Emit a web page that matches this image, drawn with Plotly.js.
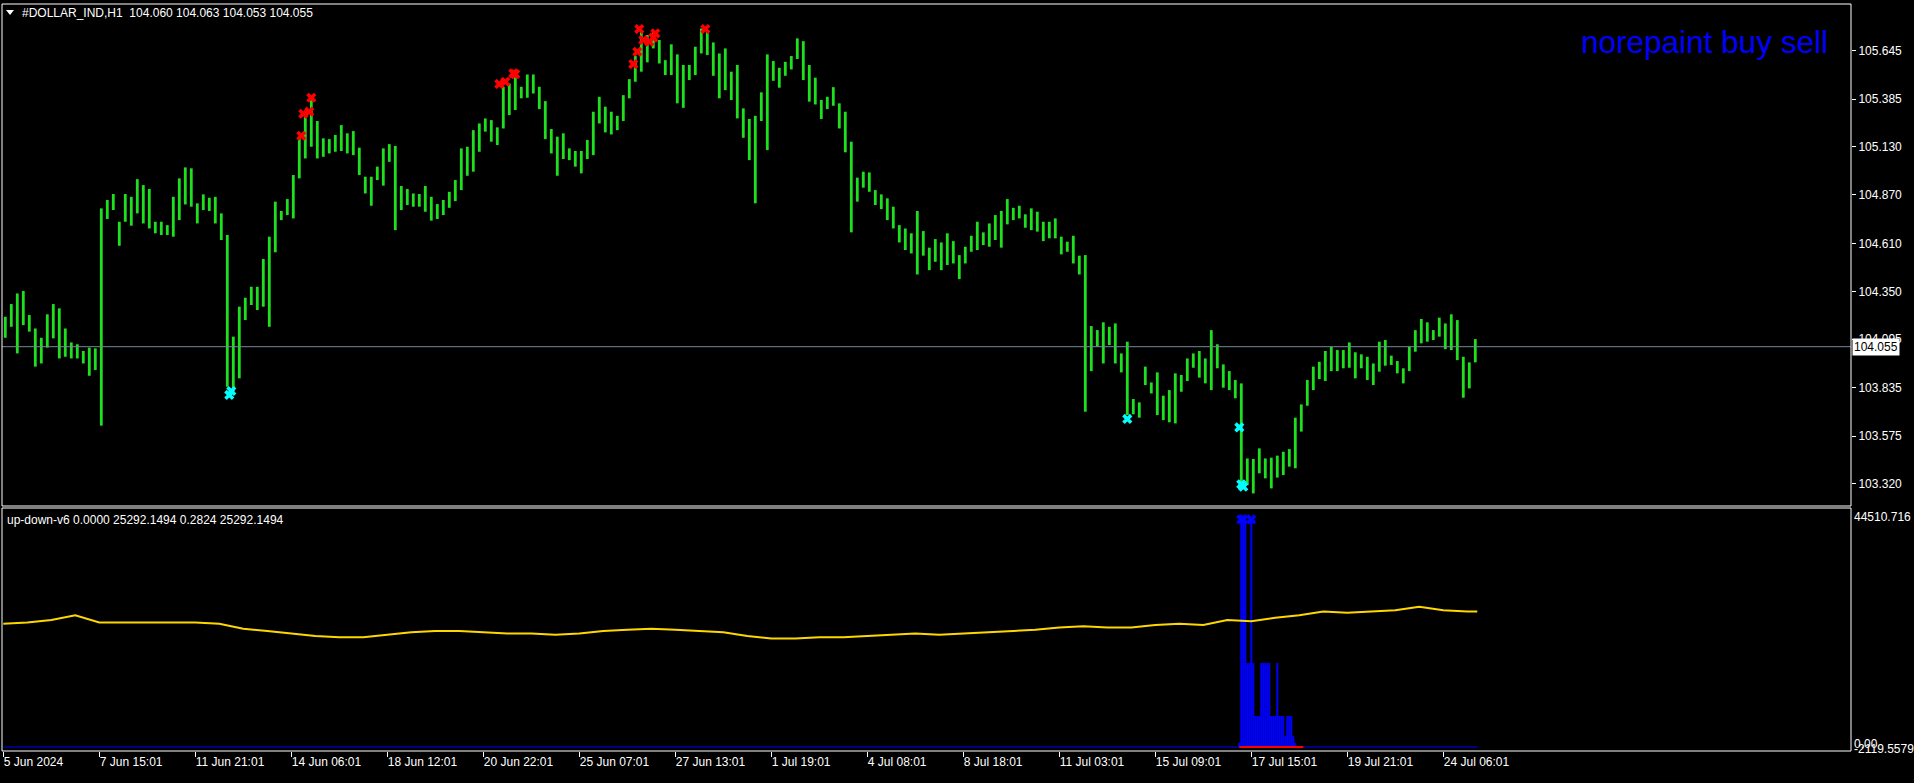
<!DOCTYPE html>
<html><head><meta charset="utf-8">
<script src="https://cdn.plot.ly/plotly-3.0.1.min.js"></script>
<style>html,body{margin:0;padding:0;background:#000;overflow:hidden}#chart{width:1914px;height:783px}</style>
</head><body><div id="chart"></div>
<script>
// ---------------- data ----------------
const symbolTitle = "#DOLLAR_IND,H1  104.060 104.063 104.053 104.055";
const indicatorTitle = "up-down-v6 0.0000 25292.1494 0.2824 25292.1494";
const brandText = "norepaint buy sell";
const lastPrice = 104.055;

// price bars, each sample = 3 hourly bars (high / low)
const barsPerSample = 3;
const sampleHigh = [
104.216,104.284,104.341,104.354,104.225,104.153,104.103,104.229,104.284,104.261,
104.153,104.078,104.068,104.032,104.050,104.046,104.798,104.843,104.875,104.726,
104.875,104.860,104.955,104.923,104.902,104.726,104.726,104.708,104.860,104.959,
105.018,105.013,104.825,104.873,104.855,104.860,104.771,104.655,104.109,104.270,
104.318,104.377,104.377,104.526,104.646,104.834,104.784,104.848,104.977,105.183,
105.299,105.380,105.267,105.174,105.170,105.192,105.245,105.201,105.213,105.124,
104.968,104.968,105.022,
105.120,105.143,105.133,104.918,104.902,104.878,104.875,104.918,104.860,104.821,
104.843,104.887,104.950,105.120,105.129,105.218,105.254,105.281,105.272,105.233,
105.451,105.469,105.523,105.451,105.517,105.517,105.451,105.374,105.224,105.183,
105.201,105.120,105.106,105.106,105.165,105.317,105.397,105.344,105.317,105.295,
105.406,105.492,105.618,105.755,105.729,105.747,105.702,105.594,105.679,105.625,
105.568,105.568,105.666,105.764,105.747,105.689,105.630,105.657,105.532,105.568,
105.335,
105.278,105.295,105.421,105.625,105.589,105.553,105.585,105.616,105.711,105.696,
105.568,105.500,105.380,105.397,105.449,105.362,105.317,105.156,104.963,104.995,
104.991,104.896,104.873,104.852,104.807,104.708,104.690,104.664,104.784,104.676,
104.587,104.633,104.615,104.664,104.622,104.547,104.592,104.651,104.726,104.669,
104.717,104.762,104.784,104.848,104.801,104.812,104.766,104.798,104.780,104.726,
104.726,104.744,104.646,104.619,104.651,104.544,104.547,104.166,104.144,104.186,
104.162,104.180,
104.019,104.082,103.774,103.756,103.948,103.863,103.917,103.792,103.822,103.912,
103.903,103.992,104.019,104.032,103.992,104.144,104.068,103.960,103.924,103.876,
103.858,103.455,103.452,103.509,103.455,103.459,103.470,103.491,103.505,103.674,
103.745,103.876,103.948,103.974,104.032,104.055,104.037,104.037,104.078,104.025,
104.014,104.001,103.965,104.082,104.091,104.007,103.978,103.939,104.055,104.144,
104.204,104.186,104.144,104.211,104.180,104.229,104.198,104.001,103.971,104.096
];
const sampleLow = [
104.103,104.162,104.019,104.171,104.136,103.948,103.965,104.050,104.100,103.992,
104.001,103.992,103.992,103.965,103.899,103.930,103.631,104.741,104.789,104.597,
104.726,104.705,104.771,104.717,104.690,104.664,104.655,104.655,104.646,104.735,
104.819,104.807,104.717,104.789,104.784,104.717,104.628,103.840,103.813,103.885,
104.198,104.279,104.252,104.270,104.162,104.562,104.735,104.762,104.744,104.959,
105.066,105.129,105.066,105.075,105.093,105.102,105.106,105.093,105.084,104.977,
104.878,104.812,104.950,
104.920,105.048,104.681,104.789,104.816,104.807,104.807,104.780,104.732,104.741,
104.762,104.801,104.837,104.896,104.973,104.995,105.102,105.210,105.156,105.138,
105.227,105.299,105.326,105.389,105.392,105.415,105.331,105.170,105.093,104.973,
105.063,105.057,105.022,104.986,105.063,105.084,105.254,105.206,105.195,105.218,
105.267,105.389,105.478,105.532,105.582,105.657,105.576,105.514,105.514,105.362,
105.338,105.487,105.514,105.630,105.621,105.510,105.389,105.433,105.380,105.281,
105.177,
105.057,104.825,105.267,105.111,105.483,105.446,105.510,105.544,105.600,105.487,
105.371,105.356,105.278,105.331,105.349,105.227,105.099,104.669,104.834,104.909,
104.887,104.816,104.794,104.735,104.690,104.615,104.574,104.556,104.443,104.544,
104.466,104.511,104.466,104.494,104.502,104.418,104.502,104.565,104.574,104.601,
104.592,104.628,104.587,104.712,104.735,104.744,104.694,104.681,104.673,104.622,
104.637,104.637,104.551,104.565,104.502,104.443,103.706,103.924,104.055,103.965,
104.064,103.965,
103.917,103.688,103.692,103.674,103.849,103.804,103.688,103.661,103.649,103.643,
103.813,103.871,103.942,103.889,103.858,103.822,103.939,103.835,103.822,103.778,
103.294,103.312,103.267,103.375,103.348,103.294,103.352,103.366,103.411,103.402,
103.599,103.738,103.822,103.881,103.871,103.924,103.924,103.939,103.942,103.885,
103.939,103.876,103.849,103.921,103.953,103.957,103.912,103.858,103.924,104.028,
104.073,104.082,104.091,104.109,104.042,104.037,103.983,103.781,103.831,103.971
];

// sell (red) and buy (cyan) signal crosses: hourly bar number and price
const sellBars   = [149,150,153,154,248,251,255,256,315,317,318,320,323,325,326,351];
const sellPrices = [105.188,105.306,105.317,105.392,105.466,105.478,105.523,105.519,105.573,105.639,105.761,105.702,105.693,105.715,105.738,105.761];
const buyBars    = [113,114,562,618,619,620];
const buyPrices  = [103.796,103.817,103.667,103.622,103.316,103.303];

// indicator window (yellow line read every 12 hourly bars)
const yellowStep = 12;
const yellowValues = [
23019,23247,23703,24616,23247,23247,23247,23247,23247,23019,
22107,21651,21196,20740,20510,20510,20968,21424,21651,21651,
21424,21196,21196,20968,21196,21651,21879,22107,21879,21651,
21424,20740,20282,20282,20510,20510,20740,20968,21196,20968,
21196,21424,21651,21879,22335,22563,22335,22335,22791,23019,
22791,23703,23475,24160,24616,25300,25072,25300,25528,26212,
25528,25300];
const yellowLast = 25292.1494;
const lastBar = 737;
const histStartBar = 618;
const histValues = [800,42500,42500,42500,15690,15690,42500,15690,5790,5790,5790,
15690,15690,15690,15690,15690,5790,5790,5790,15690,5790,5790,5790,2050,5790,5790,5790,2050,800];
const histMarkBars = [619,620,624];
const redLineBars = [618,650];

// axis labels
const priceTicks = [105.645,105.385,105.130,104.870,104.610,104.350,104.095,103.835,103.575,103.320];
const indTop = "44510.716", indZero = "0.00", indBottom = "-2119.5579";
const dateLabels = ["5 Jun 2024","7 Jun 15:01","11 Jun 21:01","14 Jun 06:01","18 Jun 12:01","20 Jun 22:01",
"25 Jun 07:01","27 Jun 13:01","1 Jul 19:01","4 Jul 08:01","8 Jul 18:01","11 Jul 03:01",
"15 Jul 09:01","17 Jul 15:01","19 Jul 21:01","24 Jul 06:01"];
const barsPerDateLabel = 48;

// ---------------- build ----------------
const FONT = "Liberation Sans, Arial, sans-serif";
const L=2, R=1851, T=4, B=751;
const pxX = p => (p - L) / (R - L);
const pxY = p => (B - p) / (B - T);

const sx = sampleHigh.map((_, i) => i * barsPerSample + 1);
const priceBars = {
  type: "bar", x: sx, base: sampleLow, y: sampleHigh.map((h, i) => h - sampleLow[i]),
  width: 1.4, marker: {color: "#1fe01f", line: {width: 0}}, xaxis: "x", yaxis: "y", hoverinfo: "skip"
};
const sells = {type: "scatter", mode: "markers", x: sellBars, y: sellPrices, xaxis: "x", yaxis: "y",
  marker: {symbol: "x", size: 9, color: "#ff0000", line: {width: 0}}, hoverinfo: "skip"};
const buys = {type: "scatter", mode: "markers", x: buyBars, y: buyPrices, xaxis: "x", yaxis: "y",
  marker: {symbol: "x", size: 9, color: "#00ffff", line: {width: 0}}, hoverinfo: "skip"};

const yx = yellowValues.map((_, i) => i * yellowStep).concat([lastBar]);
const yy = yellowValues.concat([yellowLast]);
const yellow = {type: "scatter", mode: "lines", x: yx, y: yy, xaxis: "x", yaxis: "y2",
  line: {color: "#ffd700", width: 2, shape: "linear"}, hoverinfo: "skip"};
const hist = {type: "bar", x: histValues.map((_, i) => histStartBar + i), y: histValues, width: 1,
  xaxis: "x", yaxis: "y2", marker: {color: "#0000ff", line: {width: 0}}, hoverinfo: "skip"};
const histMarks = {type: "scatter", mode: "markers", x: histMarkBars,
  y: histMarkBars.map(b => histValues[b - histStartBar]), xaxis: "x", yaxis: "y2",
  marker: {symbol: "x", size: 9, color: "#0000ff", line: {width: 0}}, hoverinfo: "skip"};

const txt = (x, y, text, opts) => Object.assign({xref: "paper", yref: "paper", x: pxX(x), y: pxY(y),
  text, showarrow: false, xanchor: "left", yanchor: "middle", font: {family: FONT, size: 12, color: "#ffffff"}}, opts || {});

const layout = {
  width: 1914, height: 783, paper_bgcolor: "#000", plot_bgcolor: "#000",
  margin: {l: L, r: 1914 - R, t: T, b: 783 - B}, showlegend: false, barmode: "overlay",
  xaxis: {domain: [0, 1], range: [-0.65, 923.85], anchor: "y2", showgrid: false, zeroline: false,
    tickvals: dateLabels.map((_, i) => i * barsPerDateLabel), ticktext: dateLabels,
    ticks: "outside", ticklen: 5, tickcolor: "#ffffff", tickwidth: 1, ticklabelposition: "outside right",
    tickfont: {family: FONT, size: 12, color: "#ffffff"}, automargin: false, fixedrange: true},
  yaxis: {domain: [pxY(506), 1], range: [103.1995, 105.8955], side: "right", showgrid: false, zeroline: false,
    tickvals: priceTicks, ticktext: priceTicks.map(v => v.toFixed(3)), ticks: "outside", ticklen: 4,
    tickcolor: "#ffffff", tickfont: {family: FONT, size: 12, color: "#ffffff"}, automargin: false, fixedrange: true},
  yaxis2: {domain: [0, pxY(508)], range: [-747, 44641], showgrid: false, zeroline: false,
    showticklabels: false, automargin: false, fixedrange: true},
  shapes: [
    {type: "line", xref: "paper", yref: "y", x0: 0, x1: 1, y0: lastPrice, y1: lastPrice, line: {color: "#778899", width: 1}},
    {type: "line", xref: "x", yref: "y2", x0: 0, x1: lastBar, y0: 0, y1: 0, line: {color: "#0000ff", width: 1}},
    {type: "line", xref: "x", yref: "y2", x0: redLineBars[0], x1: redLineBars[1], y0: 0, y1: 0, line: {color: "#ff0000", width: 2}},
    {type: "rect", xref: "paper", yref: "paper", x0: 0, x1: 1, y0: pxY(506), y1: 1, line: {color: "#ffffff", width: 1}},
    {type: "rect", xref: "paper", yref: "paper", x0: 0, x1: 1, y0: 0, y1: pxY(508), line: {color: "#ffffff", width: 1}},
    {type: "path", xref: "paper", yref: "paper",
      path: `M ${pxX(6)} ${pxY(10)} L ${pxX(14)} ${pxY(10)} L ${pxX(10)} ${pxY(15)} Z`,
      fillcolor: "#ffffff", line: {width: 0}}
  ],
  annotations: [
    txt(20, 13, symbolTitle),
    txt(5, 520, indicatorTitle),
    txt(1579, 42, brandText, {font: {family: FONT, size: 31.5, color: "#0000ff"}}),
    txt(1852, 347, lastPrice.toFixed(3), {font: {family: FONT, size: 12, color: "#000000"}, bgcolor: "#ffffff", borderpad: 1}),
    txt(1852, 517, indTop),
    txt(1852, 744, indZero),
    txt(1852, 749, indBottom)
  ]
};

Plotly.newPlot("chart", [priceBars, sells, buys, yellow, hist, histMarks], layout, {staticPlot: true, displayModeBar: false});
</script></body></html>
